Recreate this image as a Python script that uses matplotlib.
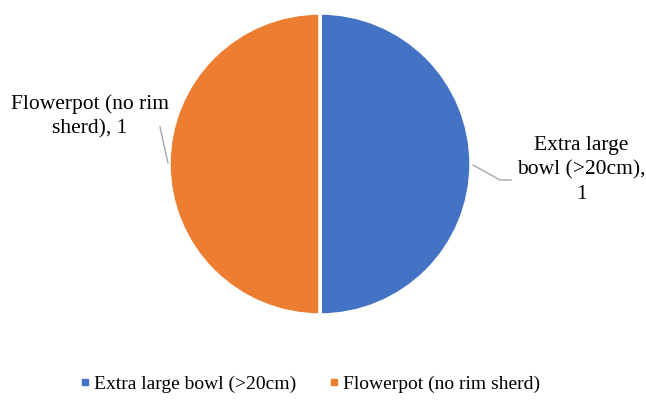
import matplotlib
matplotlib.use("Agg")
import matplotlib.pyplot as plt
from matplotlib.lines import Line2D

plt.rcParams['font.family'] = ['Liberation Serif', 'DejaVu Serif']

categories = ["Extra large bowl (>20cm)", "Flowerpot (no rim sherd)"]
values = [1, 1]
colors = ["#4472C4", "#ED7D31"]
label_texts = ["Extra large\nbowl (>20cm),\n1", "Flowerpot (no rim\nsherd), 1"]

W, H = 646, 403
fig = plt.figure(figsize=(W / 100, H / 100), dpi=100)
cx, cy, r = 320, 164, 151
ax = fig.add_axes([(cx - r) / W, (H - cy - r) / H, 2 * r / W, 2 * r / H])
ax.pie(values, colors=colors, startangle=90, counterclock=False,
       wedgeprops=dict(edgecolor="white", linewidth=2.5))
ax.set_xlim(-1, 1)
ax.set_ylim(-1, 1)
ax.set_aspect("equal")
ax.axis("off")

def px(x, y):
    return (x - cx) / r, (cy - y) / r

# leader lines
lc = "#A6A6A6"
pts = [px(473, 165), px(500, 180), px(511, 180)]
ax.plot([p[0] for p in pts], [p[1] for p in pts], color=lc, lw=1, clip_on=False)
pts = [px(168, 163), px(160, 127)]
ax.plot([p[0] for p in pts], [p[1] for p in pts], color=lc, lw=1, clip_on=False)

tx, ty = px(581, 170)
ax.text(tx, ty, label_texts[0], ha="center", va="center", fontsize=15.5,
        linespacing=1.35, color="#000000")
tx, ty = px(90, 116)
ax.text(tx, ty, label_texts[1], ha="center", va="center", fontsize=15.5,
        linespacing=1.35, color="#000000")

handles = [Line2D([], [], marker="s", linestyle="none", markersize=5,
                  markerfacecolor=c, markeredgecolor=c) for c in colors]
fig.legend(handles, categories, loc="center", bbox_to_anchor=(309 / W, 1 - 384 / H),
           ncol=2, frameon=False, fontsize=14, handletextpad=0.1,
           columnspacing=1.6, handlelength=0.7)

fig.savefig("out.png", dpi=100)
